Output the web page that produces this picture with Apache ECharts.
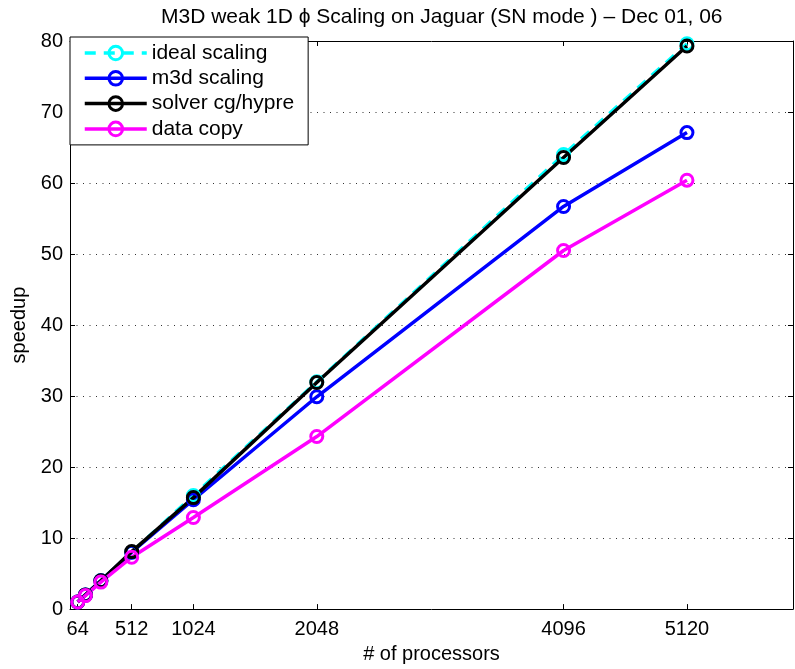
<!DOCTYPE html>
<html>
<head>
<meta charset="utf-8">
<script src="https://cdn.jsdelivr.net/npm/echarts@6/dist/echarts.min.js"></script>
<style>
html,body{margin:0;padding:0;background:#fff;}
#c{width:795px;height:669px;}
</style>
</head>
<body>
<div id="c"></div>
<script>
const processors = [64, 128, 256, 512, 1024, 2048, 4096, 5120];
const idealScaling = [1, 2, 4, 8, 16, 32, 64, 79.6];
const m3dScaling = [1, 2, 4, 8, 15.4, 29.9, 56.7, 67.1];
const solverScaling = [1, 2, 4, 8.1, 15.7, 31.9, 63.6, 79.3];
const dataCopy = [1.0, 1.9, 3.8, 7.3, 12.9, 24.3, 50.5, 60.4];
const xTickValues = [64, 512, 1024, 2048, 4096, 5120];
const seriesNames = ['ideal scaling', 'm3d scaling', 'solver cg/hypre', 'data copy'];
const titleText = 'M3D weak 1D \u03D5 Scaling on Jaguar (SN mode ) \u2013 Dec 01, 06';

const FONT = 'Liberation Sans, Arial, Helvetica, sans-serif';
const pairs = ys => processors.map((x, i) => [x, ys[i]]);

function mkSeries(name, ys, color, dashed) {
  return {
    name: name,
    type: 'line',
    data: pairs(ys),
    symbol: 'circle',
    symbolSize: 12,
    showSymbol: true,
    animation: false,
    lineStyle: { color: color, width: 3.5, type: dashed ? [11, 8] : 'solid' },
    itemStyle: { color: 'rgba(0,0,0,0)', borderColor: color, borderWidth: 3 },
    emphasis: { disabled: true }
  };
}

const chart = echarts.init(document.getElementById('c'), null, { renderer: 'canvas' });
chart.setOption({
  backgroundColor: '#ffffff',
  animation: false,
  textStyle: { fontFamily: FONT },
  title: {
    text: titleText,
    left: 156,
    top: 2,
    textStyle: { fontFamily: FONT, fontSize: 21, fontWeight: 'normal', color: '#000' }
  },
  legend: {
    orient: 'vertical',
    left: 70,
    top: 37,
    data: seriesNames,
    itemWidth: 62,
    itemHeight: 17,
    itemGap: 4.3,
    padding: [5.5, 14, 5.5, 13],
    backgroundColor: '#ffffff',
    borderColor: '#000000',
    borderWidth: 1,
    borderRadius: 0,
    lineStyle: { width: 3.5 },
    itemStyle: { borderWidth: 3 },
    textStyle: { fontFamily: FONT, fontSize: 21, color: '#000' },
    selectedMode: false
  },
  grid: { left: 70, right: 2, top: 41, bottom: 56, containLabel: false },
  xAxis: [
    {
      type: 'value', position: 'bottom', min: 0, max: 6000,
      name: '# of processors', nameLocation: 'middle', nameGap: 34,
      nameTextStyle: { fontFamily: FONT, fontSize: 20, color: '#000' },
      axisLine: { show: true, onZero: false, lineStyle: { color: '#000', width: 1 } },
      axisTick: { show: true, inside: true, length: 5, customValues: xTickValues, lineStyle: { color: '#000' } },
      axisLabel: { show: true, margin: 10, customValues: xTickValues, formatter: v => String(v), fontFamily: FONT, fontSize: 20, color: '#000' },
      splitLine: { show: false }
    },
    {
      type: 'value', position: 'top', min: 0, max: 6000,
      axisLine: { show: true, onZero: false, lineStyle: { color: '#000', width: 1 } },
      axisTick: { show: true, inside: true, length: 5, customValues: xTickValues, lineStyle: { color: '#000' } },
      axisLabel: { show: false },
      splitLine: { show: false }
    }
  ],
  yAxis: [
    {
      type: 'value', position: 'left', min: 0, max: 80, interval: 10,
      name: 'speedup', nameLocation: 'middle', nameGap: 35,
      nameTextStyle: { fontFamily: FONT, fontSize: 20, color: '#000' },
      axisLine: { show: true, onZero: false, lineStyle: { color: '#000', width: 1 } },
      axisTick: { show: true, inside: true, length: 5, lineStyle: { color: '#000' } },
      axisLabel: { show: true, margin: 7, fontFamily: FONT, fontSize: 20, color: '#000' },
      splitLine: { show: true, lineStyle: { color: '#333', width: 1, type: [1, 5.5] } }
    },
    {
      type: 'value', position: 'right', min: 0, max: 80, interval: 10,
      axisLine: { show: true, onZero: false, lineStyle: { color: '#000', width: 1 } },
      axisTick: { show: true, inside: true, length: 5, lineStyle: { color: '#000' } },
      axisLabel: { show: false },
      splitLine: { show: false }
    }
  ],
  series: [
    mkSeries(seriesNames[0], idealScaling, '#00ffff', true),
    mkSeries(seriesNames[1], m3dScaling, '#0000ff', false),
    mkSeries(seriesNames[2], solverScaling, '#000000', false),
    mkSeries(seriesNames[3], dataCopy, '#ff00ff', false)
  ]
});
</script>
</body>
</html>
